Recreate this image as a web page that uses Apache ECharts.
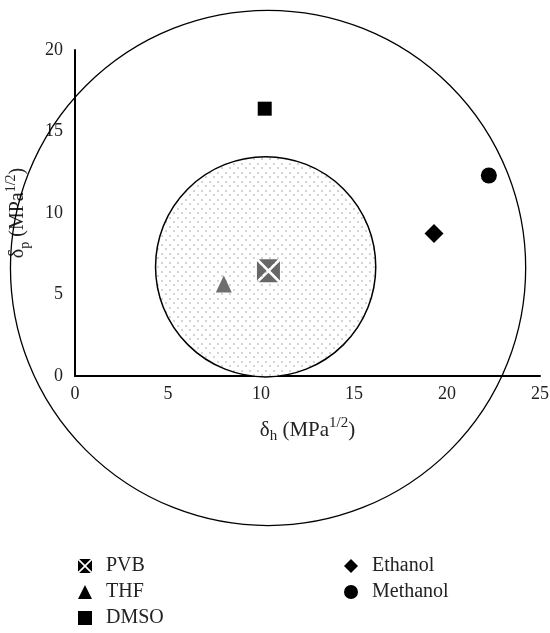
<!DOCTYPE html>
<html>
<head>
<meta charset="utf-8">
<script src="https://cdn.jsdelivr.net/npm/echarts@6/dist/echarts.min.js"></script>
<style>
html,body{margin:0;padding:0;background:#fff;}
#c{width:550px;height:633px;}
</style>
</head>
<body>
<div id="c"></div>
<script>
// ---- data ----
var seriesNames = ['PVB', 'THF', 'DMSO', 'Ethanol', 'Methanol'];
var pvb = [[10.4, 6.45]];
var thf = [[8.0, 5.65]];
var dmso = [[10.2, 16.4]];
var ethanol = [[19.3, 8.75]];
var methanol = [[22.25, 12.3]];
// interaction spheres: [center δh, center δp, radius (δh units)]
var innerSphere = [[10.25, 6.7, 5.92]];
var outerSphere = [[10.38, 6.63, 13.85]];
var xTicks = [0, 5, 10, 15, 20, 25];
var yTicks = [0, 5, 10, 15, 20];

// ---- styling helpers ----
var serif = '"Liberation Serif", "DejaVu Serif", serif';
var boxX = 'path://M2,0 L22,0 L12,10 Z M24,2 L24,22 L14,12 Z M22,24 L2,24 L12,14 Z M0,22 L0,2 L10,12 Z';

var pat = document.createElement('canvas');
pat.width = 8; pat.height = 9;
var pc = pat.getContext('2d');
pc.fillStyle = '#ffffff'; pc.fillRect(0, 0, 8, 9);
pc.fillStyle = '#d4d4d4';
pc.fillRect(1, 1, 2, 2);
pc.fillRect(5, 5, 2, 2);

function circleSeries(name, data, fill, lw) {
  return {
    name: name,
    type: 'custom',
    silent: true,
    clip: false,
    data: data,
    renderItem: function (params, api) {
      var c = api.coord([api.value(0), api.value(1)]);
      var r = api.size([api.value(2), 0])[0];
      return {
        type: 'circle',
        shape: { cx: c[0], cy: c[1], r: r },
        style: { fill: fill, stroke: '#000', lineWidth: lw }
      };
    },
    z: 1
  };
}

function makeRich(fs) {
  return {
    d: { fontFamily: serif, fontSize: fs, color: '#222', lineHeight: 28 },
    sub: { fontFamily: serif, fontSize: Math.round(fs * 0.7), color: '#222', lineHeight: 12, verticalAlign: 'bottom' },
    sup: { fontFamily: serif, fontSize: Math.round(fs * 0.7), color: '#222', lineHeight: 12, verticalAlign: 'top' }
  };
}

var legendText = { fontFamily: serif, fontSize: 20, color: '#222', padding: [0, 0, 0, 9], lineHeight: 20 };

var chart = echarts.init(document.getElementById('c'), null, { renderer: 'canvas' });
chart.setOption({
  backgroundColor: '#fff',
  animation: false,
  grid: { left: 75, right: 10, top: 50, bottom: 257, containLabel: false, outerBoundsMode: 'none' },
  xAxis: {
    type: 'value', min: xTicks[0], max: xTicks[xTicks.length - 1], interval: 5,
    name: '{d|δ}{sub|h}{d| (MPa}{sup|1/2}{d|)}',
    nameLocation: 'middle', nameGap: 40,
    nameTextStyle: { rich: makeRich(21) },
    axisLine: { show: true, onZero: false, lineStyle: { color: '#000', width: 2 } },
    axisTick: { show: false },
    splitLine: { show: false },
    axisLabel: { fontFamily: serif, fontSize: 18, color: '#222', margin: 9 }
  },
  yAxis: {
    type: 'value', min: yTicks[0], max: yTicks[yTicks.length - 1], interval: 5,
    name: '{d|δ}{sub|p}{d| (MPa}{sup|1/2}{d|)}',
    nameLocation: 'middle', nameGap: 43, nameRotate: 90,
    nameTextStyle: { rich: makeRich(20) },
    axisLine: { show: true, onZero: false, lineStyle: { color: '#000', width: 2 } },
    axisTick: { show: false },
    splitLine: { show: false },
    axisLabel: { fontFamily: serif, fontSize: 18, color: '#222', margin: 12 }
  },
  legend: [
    {
      orient: 'vertical', left: 78, top: 556, itemGap: 6, padding: 0,
      itemWidth: 14, itemHeight: 14,
      textStyle: legendText,
      data: [
        { name: 'PVB', icon: boxX, itemStyle: { color: '#000' } },
        { name: 'THF', icon: 'triangle', itemStyle: { color: '#000' } },
        { name: 'DMSO', icon: 'rect', itemStyle: { color: '#000' } }
      ]
    },
    {
      orient: 'vertical', left: 344, top: 556, itemGap: 6, padding: 0,
      itemWidth: 14, itemHeight: 14,
      textStyle: legendText,
      data: [
        { name: 'Ethanol', icon: 'diamond', itemStyle: { color: '#000' } },
        { name: 'Methanol', icon: 'circle', itemStyle: { color: '#000' } }
      ]
    }
  ],
  series: [
    circleSeries('outer', outerSphere, 'transparent', 1.3),
    circleSeries('inner', innerSphere, { image: pat, repeat: 'repeat' }, 1.5),
    { name: 'PVB', type: 'scatter', data: pvb, symbol: boxX, symbolSize: 23,
      itemStyle: { color: '#676767', opacity: 1 }, z: 5 },
    { name: 'THF', type: 'scatter', data: thf, symbol: 'triangle', symbolSize: [16, 17],
      itemStyle: { color: '#6e6e6e', opacity: 1 }, z: 5 },
    { name: 'DMSO', type: 'scatter', data: dmso, symbol: 'rect', symbolSize: 14,
      itemStyle: { color: '#000', opacity: 1 }, z: 5 },
    { name: 'Ethanol', type: 'scatter', data: ethanol, symbol: 'diamond', symbolSize: 19,
      itemStyle: { color: '#000', opacity: 1 }, z: 5 },
    { name: 'Methanol', type: 'scatter', data: methanol, symbol: 'circle', symbolSize: 16,
      itemStyle: { color: '#000', opacity: 1 }, z: 5 }
  ]
});
</script>
</body>
</html>
